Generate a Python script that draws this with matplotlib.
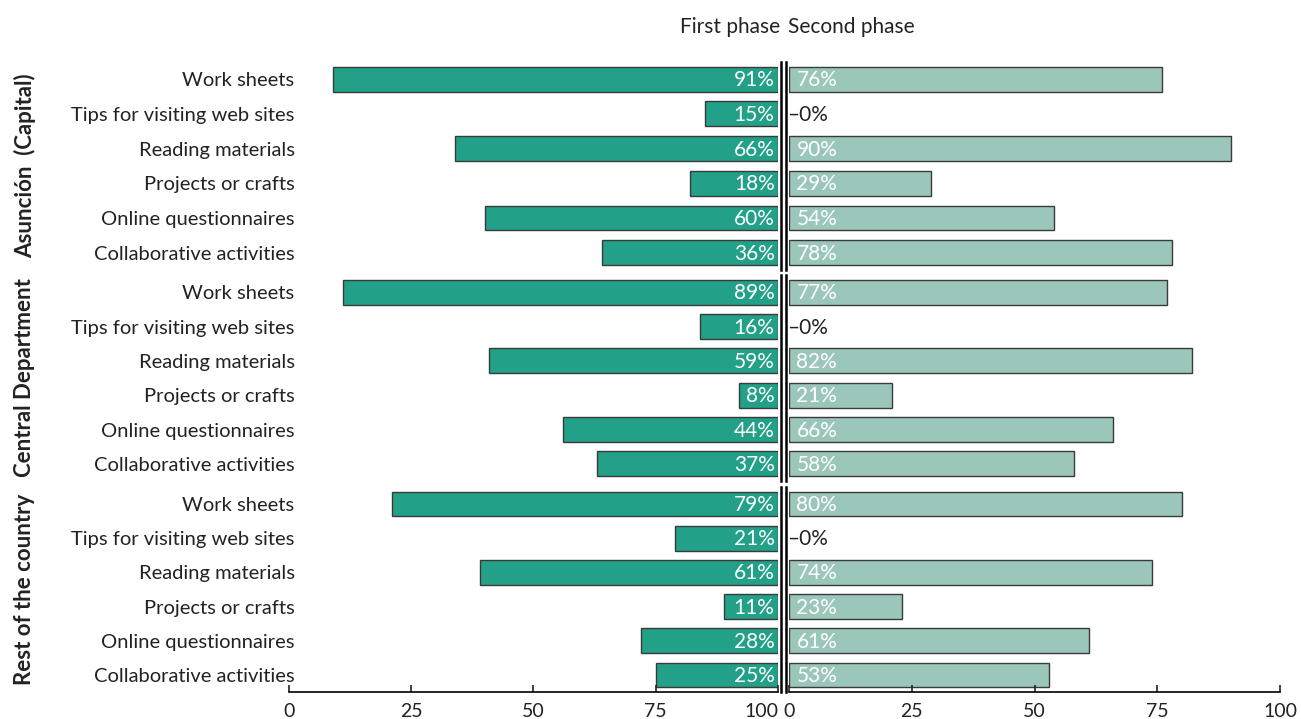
import matplotlib.pyplot as plt

plt.rcParams['font.family'] = ['Lato', 'DejaVu Sans']

categories = ['Work sheets', 'Tips for visiting web sites', 'Reading materials',
              'Projects or crafts', 'Online questionnaires', 'Collaborative activities']
regions = ['Asunción  (Capital)', 'Central Department', 'Rest of the country']

first_phase = [
    [91, 15, 66, 18, 60, 36],
    [89, 16, 59, 8, 44, 37],
    [79, 21, 61, 11, 28, 25],
]
second_phase = [
    [76, 0, 90, 29, 54, 78],
    [77, 0, 82, 21, 66, 58],
    [80, 0, 74, 23, 61, 53],
]

dark = '#22a088'
light = '#9bc7bb'
edge = '#3a3a3a'

fig = plt.figure(figsize=(13.01, 7.19), dpi=100)

# panel rows (bottom, height) in figure fractions
rows = [(0.6245, 0.2893), (0.3310, 0.2865), (0.0376, 0.2851)]
left_x, left_w = 0.2221, 0.3759
right_x, right_w = 0.6065, 0.3774
ticks = [0, 25, 50, 75, 100]

for i, (bottom, height) in enumerate(rows):
    axl = fig.add_axes([left_x, bottom, left_w, height])
    axr = fig.add_axes([right_x, bottom, right_w, height])
    y = list(range(len(categories)))
    v1 = first_phase[i]
    v2 = second_phase[i]

    axl.barh(y, v1, left=[100 - v for v in v1], height=0.72,
             color=dark, edgecolor=edge, linewidth=1)
    # empty bars get no outline
    axr.barh(y, v2, height=0.72, color=light, edgecolor=edge,
             linewidth=[1 if v else 0 for v in v2])

    for yy, v in zip(y, v1):
        axl.text(99.3, yy + 0.03, f'{v}%', ha='right', va='center',
                 color='white', fontsize=15)
    for yy, v in zip(y, v2):
        if v == 0:
            axr.text(-0.3, yy + 0.03, '–0%', ha='left', va='center',
                     color='#222222', fontsize=15)
        else:
            axr.text(1.5, yy + 0.03, f'{v}%', ha='left', va='center',
                     color='white', fontsize=15)

    for ax in (axl, axr):
        ax.set_xlim(0, 100)
        ax.set_ylim(5.5, -0.5)
        for s in ax.spines.values():
            s.set_visible(False)
        ax.set_xticks(ticks)
        ax.tick_params(axis='x', direction='in', length=5, width=1.2,
                       labelsize=14, pad=8, colors='#222222')

    axl.spines['right'].set_visible(True)
    axl.spines['right'].set_linewidth(1.8)
    axl.spines['right'].set_position(('outward', 2))
    axr.spines['left'].set_visible(True)
    axr.spines['left'].set_linewidth(1.8)
    axr.spines['left'].set_position(('outward', 2))

    axl.set_yticks(y)
    axl.set_yticklabels(categories, fontsize=14.5, color='#222222')
    axl.tick_params(axis='y', length=0, pad=-4)
    axr.set_yticks([])

    if i == 2:
        for ax in (axl, axr):
            ax.spines['bottom'].set_visible(True)
            ax.spines['bottom'].set_linewidth(1.2)
        # keep "100" clear of the right panel's "0"
        axl.get_xticklabels()[-1].set_horizontalalignment('right')
    else:
        axl.set_xticks([])
        axr.set_xticks([])

    fig.text(0.019, bottom + height / 2, regions[i], rotation=90,
             ha='center', va='center', fontsize=16, fontweight='bold',
             color='#222222')

fig.text(left_x + left_w + 0.002, 0.962, 'First phase', ha='right', va='center',
         fontsize=15, color='#222222')
fig.text(right_x - 0.001, 0.962, 'Second phase', ha='left', va='center',
         fontsize=15, color='#222222')

fig.savefig('out.png', dpi=100)
